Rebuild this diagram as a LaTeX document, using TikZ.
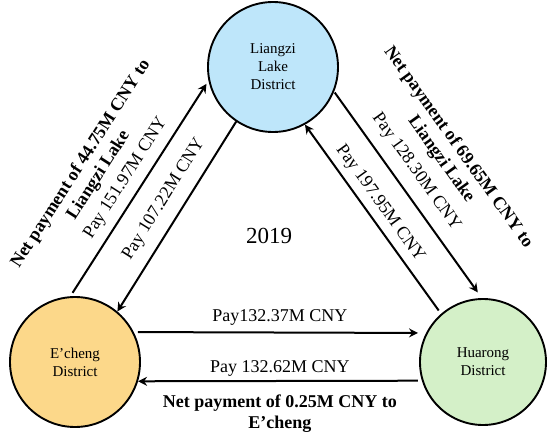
\documentclass[tikz,border=0pt]{standalone}
\usepackage{fontspec}
\setmainfont{Liberation Serif}
\usetikzlibrary{arrows.meta}
\definecolor{lzblue}{RGB}{190,230,250}
\definecolor{ecorange}{RGB}{252,216,138}
\definecolor{hrgreen}{RGB}{212,240,200}
\begin{document}
\begin{tikzpicture}[x=1pt,y=-1pt,
  district/.style={circle, draw, line width=1.9pt, minimum size=130pt, inner sep=0pt, align=center, font=\fontsize{15}{18}\selectfont},
  flow/.style={line width=2pt, -{Stealth[length=9pt,width=9pt,inset=3pt]}},
  paylbl/.style={inner sep=0pt, font=\fontsize{18}{21}\selectfont},
  netlbl/.style={inner sep=0pt, align=center, font=\fontsize{18}{21}\selectfont\bfseries}]
\useasboundingbox (0,0) rectangle (550,437);
\node[district, fill=lzblue] (lz) at (273,67) {Liangzi\\Lake\\District};
\node[district, fill=ecorange] (ec) at (75,362) {E’cheng\\District};
\node[district, fill=hrgreen, minimum size=126pt] (hr) at (483,362) {Huarong\\District};
\node[font=\fontsize{23}{26}\selectfont] (yr) at (269,236) {2019};
% left side
\draw[flow, shorten <=4pt, shorten >=3.7pt] (ec.94) --
  node[paylbl, sloped, pos=0.504, above=8pt] {Pay 151.97M CNY}
  node[netlbl, sloped, pos=0.457, above=32pt] {Net payment of 44.75M CNY to\\Liangzi Lake} (lz.192);
\draw[flow] (lz.236) --
  node[paylbl, sloped, pos=0.465, above=11pt] {Pay 107.22M CNY} (ec.50);
% right side
\draw[flow, shorten <=1pt, shorten >=7pt] (lz.338) --
  node[paylbl, sloped, pos=0.445, above=11pt] {Pay 128.30M CNY}
  node[netlbl, sloped, pos=0.463, above=38pt] {Net payment of 69.65M CNY to\\Liangzi Lake} (hr.91);
\draw[flow, shorten <=4pt] (hr.131) --
  node[paylbl, sloped, pos=0.538, above=6pt] {Pay 197.95M CNY} (lz.299);
% bottom
\draw[flow, shorten <=4pt, shorten >=8pt] (ec.27) --
  node[paylbl, pos=0.5, above=6pt] {Pay132.37M CNY} (hr.153);
\draw[flow, shorten <=4pt] (hr.197) --
  node[paylbl, pos=0.5, above=4pt] {Pay 132.62M CNY}
  node[netlbl, pos=0.5, below=13pt] {Net payment of 0.25M CNY to\\E’cheng} (ec.343);
\end{tikzpicture}
\end{document}
